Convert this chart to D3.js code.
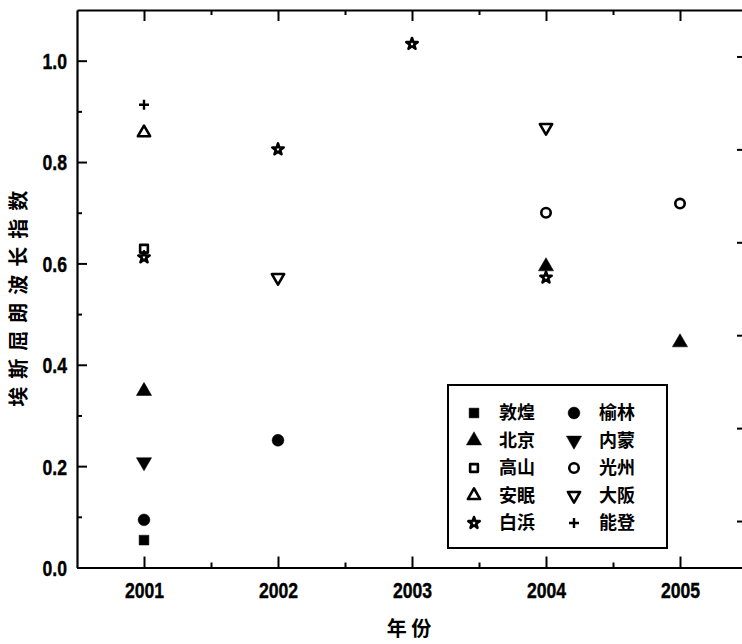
<!DOCTYPE html>
<html><head><meta charset="utf-8">
<script src="https://cdn.jsdelivr.net/npm/d3@7"></script>
<style>
html,body{margin:0;padding:0;background:#fff;}
svg{display:block;}
text{fill:#000;}
</style></head>
<body>
<svg id="chart" width="742" height="644"></svg>
<script>
// ---- data ----
const years = [2001, 2002, 2003, 2004, 2005];
const xTickLabels = ["2001", "2002", "2003", "2004", "2005"];
const yTickValues = [0.0, 0.2, 0.4, 0.6, 0.8, 1.0];
const stations = ["敦煌", "榆林", "北京", "内蒙", "高山", "光州", "安眠", "大阪", "白浜", "能登"];
const v_dunhuang = [0.054, null, null, null, null];
const v_yulin    = [0.094, 0.251, null, null, null];
const v_beijing  = [0.348, null, null, 0.594, 0.444];
const v_neimeng  = [0.208, null, null, null, null];
const v_gaoshan  = [0.629, null, null, null, null];
const v_guangzhou= [null, null, null, 0.700, 0.718];
const v_anmian   = [0.858, null, null, null, null];
const v_daban    = [null, 0.572, null, 0.868, null];
const v_baibin   = [0.612, 0.825, 1.033, 0.572, null];
const v_nengdeng = [0.913, null, null, null, null];
const seriesValues = [v_dunhuang, v_yulin, v_beijing, v_neimeng, v_gaoshan, v_guangzhou, v_anmian, v_daban, v_baibin, v_nengdeng];
const xTitle = "年 份";
const yTitle = "埃斯屈朗波长指数";

// ---- styles ----
const markers = [
  {type: d3.symbolSquare, fill: true, size: 95, rot: 0},
  {type: d3.symbolCircle, fill: true, size: 110, rot: 0},
  {type: d3.symbolTriangle, fill: true, size: 100, rot: 0},
  {type: d3.symbolTriangle, fill: true, size: 100, rot: 180},
  {type: d3.symbolSquare, fill: false, size: 60, rot: 0},
  {type: d3.symbolCircle, fill: false, size: 70, rot: 0},
  {type: d3.symbolTriangle, fill: false, size: 65, rot: 0},
  {type: d3.symbolTriangle, fill: false, size: 65, rot: 180},
  {type: d3.symbolStar, fill: false, size: 40, rot: 0},
  {type: "plus", fill: false, size: 10, rot: 0}
];

const svg = d3.select("#chart");
const L = 77, R = 747, T = 10, B = 567.5;
const x = d3.scaleLinear().domain([2000.5, 2005.5]).range([L, R]);
const y = d3.scaleLinear().domain([0, 1.1]).range([B, T]);
const yRight = d3.scaleLinear().domain([-0.5, 5.5]).range([B, T]);

const numFont = "'Liberation Sans', Arial, sans-serif";
const cjkFont = "'Noto Sans CJK SC', sans-serif";
const SX = 0.8; // horizontal squeeze of number labels

function styleAxis(g) {
  g.selectAll("path.domain").attr("stroke", "#000").attr("stroke-width", 2.2);
  g.selectAll(".tick line").attr("stroke", "#000").attr("stroke-width", 2);
  g.selectAll(".tick text").attr("font-family", numFont).attr("font-weight", "bold").attr("font-size", 22)
    .attr("fill", "#000").attr("stroke", "#000").attr("stroke-width", 0.4);
}

const xMinor = d3.range(2001.5, 2005.5, 1);
const yMinor = d3.range(0.1, 1.1, 0.2);

// bottom axis
const gB = svg.append("g").attr("transform", `translate(0,${B})`)
  .call(d3.axisBottom(x).tickValues(years).tickFormat((d, i) => xTickLabels[i]).tickSizeInner(-11).tickSizeOuter(0).tickPadding(15));
styleAxis(gB);
gB.selectAll(".tick text").attr("transform", `scale(${SX},1)`);
svg.append("g").attr("transform", `translate(0,${B})`)
  .call(d3.axisBottom(x).tickValues(xMinor).tickFormat("").tickSizeInner(-5).tickSizeOuter(0))
  .call(g => { g.select("path.domain").remove(); g.selectAll("line").attr("stroke", "#000").attr("stroke-width", 2); });
// top axis
const gT = svg.append("g").attr("transform", `translate(0,${T})`)
  .call(d3.axisTop(x).tickValues(years).tickFormat("").tickSizeInner(-11).tickSizeOuter(0));
styleAxis(gT);
svg.append("g").attr("transform", `translate(0,${T})`)
  .call(d3.axisTop(x).tickValues(xMinor).tickFormat("").tickSizeInner(-5).tickSizeOuter(0))
  .call(g => { g.select("path.domain").remove(); g.selectAll("line").attr("stroke", "#000").attr("stroke-width", 2); });
// left axis
const padL = 10;
const gL = svg.append("g").attr("transform", `translate(${L},0)`)
  .call(d3.axisLeft(y).tickValues(yTickValues).tickFormat(d3.format(".1f")).tickSizeInner(-10).tickSizeOuter(0).tickPadding(padL));
styleAxis(gL);
gL.selectAll(".tick text").attr("dy", "0.36em").attr("x", -padL / SX).attr("transform", `scale(${SX},1)`);
svg.append("g").attr("transform", `translate(${L},0)`)
  .call(d3.axisLeft(y).tickValues(yMinor).tickFormat("").tickSizeInner(-5).tickSizeOuter(0))
  .call(g => { g.select("path.domain").remove(); g.selectAll("line").attr("stroke", "#000").attr("stroke-width", 2); });
// right axis (own scale)
const gR = svg.append("g").attr("transform", `translate(${R},0)`)
  .call(d3.axisRight(yRight).tickValues(d3.range(0, 6)).tickFormat("").tickSizeInner(-10).tickSizeOuter(0));
styleAxis(gR);
svg.append("g").attr("transform", `translate(${R},0)`)
  .call(d3.axisRight(yRight).tickValues(d3.range(0.5, 5.5, 1)).tickFormat("").tickSizeInner(-5).tickSizeOuter(0))
  .call(g => { g.select("path.domain").remove(); g.selectAll("line").attr("stroke", "#000").attr("stroke-width", 2); });

// axis titles
svg.append("text").attr("x", x(2003) - 3).attr("y", 636)
  .attr("text-anchor", "middle").attr("font-family", cjkFont).attr("font-weight", "bold")
  .attr("font-size", 20).text(xTitle);
svg.append("text").attr("transform", `translate(26,${(T + B) / 2 + 6}) rotate(-90)`)
  .attr("text-anchor", "middle").attr("font-family", cjkFont).attr("font-weight", "bold")
  .attr("font-size", 20).attr("letter-spacing", 8).text(yTitle);

// markers
function drawMarker(g, m, cx, cy) {
  if (m.type === "plus") {
    const s = 5;
    g.append("path").attr("d", `M${cx - s},${cy}H${cx + s}M${cx},${cy - s}V${cy + s}`)
      .attr("stroke", "#000").attr("stroke-width", 2.4).attr("fill", "none");
    return;
  }
  g.append("path")
    .attr("d", d3.symbol().type(m.type).size(m.size)())
    .attr("transform", `translate(${cx},${cy}) rotate(${m.rot})`)
    .attr("fill", m.fill ? "#000" : "#fff")
    .attr("stroke", "#000")
    .attr("stroke-width", m.fill ? 0.5 : 2.6)
    .attr("stroke-linejoin", "round");
}

const gPts = svg.append("g");
seriesValues.forEach((vals, si) => {
  vals.forEach((v, i) => {
    if (v === null) return;
    drawMarker(gPts, markers[si], x(years[i]), y(v));
  });
});

// legend
const lg = svg.append("g");
lg.append("rect").attr("x", 448).attr("y", 385).attr("width", 219).attr("height", 163)
  .attr("fill", "#fff").attr("stroke", "#000").attr("stroke-width", 2);
const legendCols = [[0, 2, 4, 6, 8], [1, 3, 5, 7, 9]];
legendCols.forEach((col, ci) => {
  col.forEach((si, ri) => {
    const cy = 413 + ri * 27.5;
    const sx = ci === 0 ? 474 : 574;
    drawMarker(lg, markers[si], sx, cy);
    lg.append("text").attr("x", sx + 25).attr("y", cy).attr("dy", "0.36em")
      .attr("font-family", cjkFont).attr("font-weight", "bold").attr("font-size", 18)
      .text(stations[si]);
  });
});
</script>
</body></html>
